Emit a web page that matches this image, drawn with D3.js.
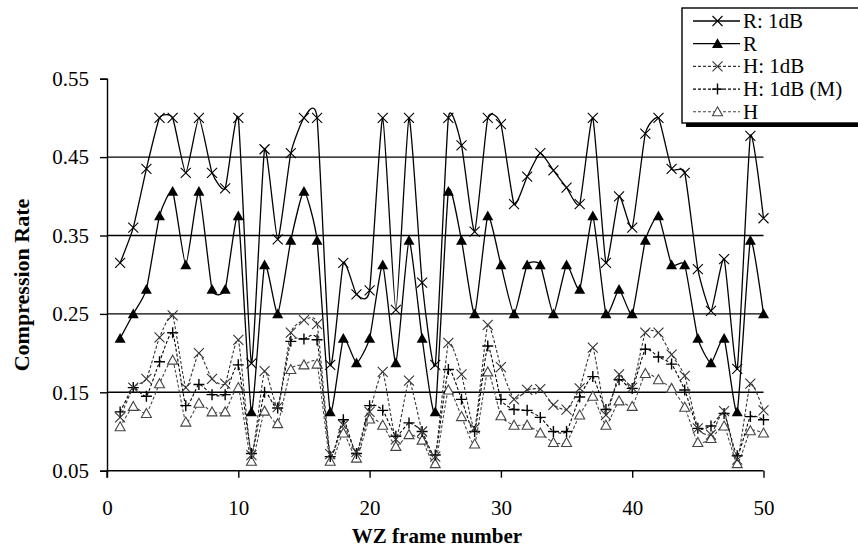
<!DOCTYPE html>
<html><head><meta charset="utf-8">
<script src="https://cdn.jsdelivr.net/npm/d3@7"></script>
<style>body{margin:0;background:#fff}svg{display:block}</style>
</head><body>
<svg id="c" width="858" height="548"></svg>
<script>
const frames = [1,2,3,4,5,6,7,8,9,10,11,12,13,14,15,16,17,18,19,20,21,22,23,24,25,26,27,28,29,30,31,32,33,34,35,36,37,38,39,40,41,42,43,44,45,46,47,48,49,50];
const xTicks = [0,10,20,30,40,50];
const yTicks = [0.05,0.15,0.25,0.35,0.45,0.55];
const gridVals = [0.15,0.25,0.35,0.45];
const seriesNames = ["R: 1dB","R","H: 1dB","H: 1dB (M)","H"];

const r1dB = [0.315,0.36,0.435,0.5,0.5,0.43,0.5,0.43,0.41,0.5,0.187,0.46,0.345,0.455,0.5,0.5,0.185,0.315,0.275,0.28,0.5,0.255,0.5,0.29,0.185,0.5,0.465,0.355,0.5,0.492,0.39,0.425,0.455,0.433,0.411,0.39,0.5,0.315,0.4,0.36,0.48,0.5,0.435,0.43,0.307,0.254,0.32,0.18,0.477,0.372];
const rVals = [0.21875,0.25,0.28125,0.375,0.40625,0.3125,0.40625,0.28125,0.28125,0.375,0.125,0.3125,0.25,0.34375,0.40625,0.34375,0.125,0.21875,0.1875,0.21875,0.3125,0.1875,0.34375,0.21875,0.125,0.40625,0.34375,0.25,0.375,0.3125,0.25,0.3125,0.3125,0.25,0.3125,0.28125,0.375,0.25,0.28125,0.25,0.34375,0.375,0.3125,0.3125,0.21875,0.1875,0.21875,0.125,0.34375,0.25];
const h1dB = [0.118,0.156,0.167,0.22,0.248,0.156,0.2,0.167,0.161,0.217,0.07,0.177,0.131,0.226,0.242,0.237,0.071,0.108,0.074,0.125,0.176,0.09,0.165,0.1,0.068,0.213,0.173,0.104,0.236,0.182,0.141,0.153,0.154,0.134,0.128,0.155,0.207,0.121,0.173,0.156,0.226,0.226,0.198,0.171,0.104,0.096,0.126,0.064,0.161,0.127];
const h1dBM = [0.125,0.156,0.145,0.189,0.226,0.133,0.16,0.147,0.147,0.185,0.072,0.15,0.13,0.215,0.218,0.217,0.068,0.115,0.072,0.133,0.127,0.094,0.111,0.1,0.07,0.179,0.141,0.1,0.209,0.141,0.128,0.127,0.118,0.1,0.1,0.144,0.17,0.128,0.166,0.155,0.205,0.195,0.186,0.153,0.104,0.107,0.123,0.069,0.119,0.115];
const hVals = [0.106,0.132,0.123,0.161,0.191,0.112,0.136,0.125,0.125,0.156,0.062,0.126,0.11,0.179,0.185,0.186,0.062,0.098,0.066,0.116,0.108,0.081,0.096,0.089,0.059,0.153,0.119,0.084,0.176,0.12,0.108,0.108,0.098,0.086,0.086,0.121,0.145,0.108,0.139,0.132,0.174,0.166,0.155,0.131,0.086,0.091,0.107,0.059,0.101,0.098];

const svg = d3.select("#c");
const FONT = "'Liberation Serif','Times New Roman',serif";
const x = d3.scaleLinear().domain([0,50]).range([107,763.5]);
const y = d3.scaleLinear().domain([0.05,0.55]).range([470.7,78.7]);

// grid
svg.append("g").selectAll("line").data(gridVals).join("line")
  .attr("x1",x(0)).attr("x2",x(50)).attr("y1",d=>y(d)).attr("y2",d=>y(d))
  .attr("stroke","#000").attr("stroke-width",1.4);

// axes
const yAxis = d3.axisLeft(y).tickValues(yTicks).tickFormat(d3.format(".2f")).tickSize(7).tickPadding(11);
const gy = svg.append("g").attr("transform",`translate(${x(0)},0)`).call(yAxis);
const xAxis = d3.axisBottom(x).tickValues(xTicks).tickFormat(d3.format("d")).tickSize(7).tickPadding(22);
const gx = svg.append("g").attr("transform",`translate(0,${y(0.05)})`).call(xAxis);
[gx,gy].forEach(g=>{
  g.select(".domain").attr("stroke","#000").attr("stroke-width",1.4);
  g.selectAll(".tick line").attr("stroke","#000").attr("stroke-width",1.4);
  g.selectAll(".tick text").attr("font-family",FONT).attr("font-size",21).attr("fill","#000");
});
gx.select(".domain").attr("d",`M${x(0)},7V0H${x(50)}`);

// axis titles
svg.append("text").attr("x",437).attr("y",538).attr("dominant-baseline","middle").attr("text-anchor","middle")
  .attr("font-family",FONT).attr("font-weight","bold").attr("font-size",21).text("WZ frame number");
svg.append("text").attr("transform","translate(29,285) rotate(-90)").attr("text-anchor","middle")
  .attr("font-family",FONT).attr("font-weight","bold").attr("font-size",22).text("Compression Rate");

const curve = d3.curveCardinal.tension(0.5);
const line = d3.line().x((d,i)=>x(frames[i])).y(d=>y(d)).curve(curve);

const xPath = s => `M${-s},${-s}L${s},${s}M${-s},${s}L${s},${-s}`;
const plusPath = s => `M${-s},0L${s},0M0,${-s}L0,${s}`;
const triPath = s => `M0,${-s}L${s},${s*0.8}L${-s},${s*0.8}Z`;

const series = [
  {name:seriesNames[0], vals:r1dB, dash:null, color:"#000", lw:1.3, marker:"x"},
  {name:seriesNames[1], vals:rVals, dash:null, color:"#000", lw:1.3, marker:"tri"},
  {name:seriesNames[2], vals:h1dB, dash:"3,2", color:"#333", lw:1.1, marker:"x"},
  {name:seriesNames[3], vals:h1dBM, dash:"3,2", color:"#000", lw:1.1, marker:"plus"},
  {name:seriesNames[4], vals:hVals, dash:"3,2", color:"#444", lw:1.1, marker:"otri"}
];

function drawMarker(g, type, color){
  if(type==="x") g.append("path").attr("d",xPath(5)).attr("stroke",color).attr("stroke-width",1.1).attr("fill","none");
  else if(type==="plus") g.append("path").attr("d",plusPath(5.5)).attr("stroke",color).attr("stroke-width",1.4).attr("fill","none");
  else if(type==="tri") g.append("path").attr("d",triPath(5.5)).attr("fill","#000");
  else if(type==="otri") g.append("path").attr("d",triPath(5)).attr("fill","#fff").attr("stroke",color).attr("stroke-width",1.1);
}

// draw H series first then R
[4,3,2,1,0].forEach(k=>{
  const s = series[k];
  const g = svg.append("g");
  g.append("path").datum(s.vals).attr("d",line).attr("fill","none")
    .attr("stroke",s.color).attr("stroke-width",s.lw).attr("stroke-dasharray",s.dash);
  g.selectAll("g.m").data(s.vals).join("g").attr("class","m")
    .attr("transform",(d,i)=>`translate(${x(frames[i])},${y(d)})`)
    .each(function(){ drawMarker(d3.select(this), s.marker, s.color); });
});

// legend
const lg = svg.append("g");
lg.append("rect").attr("x",686).attr("y",12).attr("width",200).attr("height",115).attr("fill","#000");
lg.append("rect").attr("x",682).attr("y",8).attr("width",200).attr("height",115).attr("fill","#fff").attr("stroke","#000").attr("stroke-width",1.4);
series.forEach((s,i)=>{
  const cy = 21 + i*22.7;
  const row = lg.append("g");
  row.append("line").attr("x1",693).attr("x2",740).attr("y1",cy).attr("y2",cy)
    .attr("stroke",s.color).attr("stroke-width",s.lw).attr("stroke-dasharray",s.dash);
  const mg = row.append("g").attr("transform",`translate(717.5,${cy})`);
  drawMarker(mg, s.marker, s.color);
  row.append("text").attr("x",743).attr("y",cy+7).attr("font-family",FONT).attr("font-size",21).text(s.name);
});
</script>
</body></html>
